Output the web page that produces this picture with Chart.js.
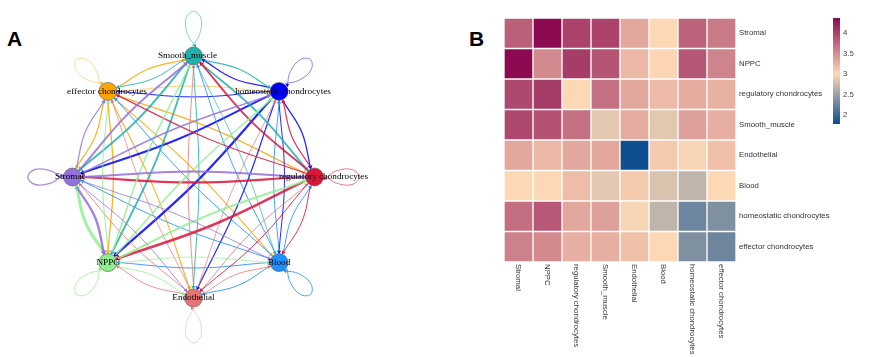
<!DOCTYPE html>
<html>
<head>
<meta charset="utf-8">
<script src="https://cdn.jsdelivr.net/npm/chart.js@4"></script>
<style>
  html, body { margin: 0; padding: 0; background: #fff; width: 870px; height: 357px; overflow: hidden; }
  canvas { position: absolute; }
  .panel { position: absolute; font: bold 21px "Liberation Sans", Arial, sans-serif; color: #000; }
</style>
</head>
<body>
<div class="panel" style="left:7px;top:27px">A</div>
<div class="panel" style="left:469px;top:27px">B</div>
<canvas id="network" style="left:0;top:0" width="430" height="357"></canvas>
<canvas id="heatmap" style="left:470px;top:0" width="400" height="357"></canvas>
<canvas id="colorbar" style="left:820px;top:0" width="50" height="140"></canvas>
<script>
const cellTypes = ['Stromal', 'NPPC', 'regulatory chondrocytes', 'Smooth_muscle', 'Endothelial', 'Blood', 'homeostatic chondrocytes', 'effector chondrocytes'];

// network layout, unit circle
const nodeX = [-1, -0.707, 1, 0, 0, 0.707, 0.707, -0.707];
const nodeY = [0, -0.707, 0, 1, -1, -0.707, 0.707, 0.707];
const nodeColors = ['#9370DB', '#90EE90', '#DC143C', '#20B2AA', '#E57373', '#1E90FF', '#0000FF', '#FFA500'];

// line width of each edge, row = source, column = target
const edgeWidths = [
  [1.3, 2.4, 2.0, 2.0, 0.9, 0.9, 1.5, 1.2],
  [3.0, 0.9, 1.9, 1.5, 0.9, 0.8, 1.5, 1.0],
  [2.2, 2.6, 0.7, 1.8, 1.0, 1.0, 1.2, 1.2],
  [2.0, 1.8, 1.8, 0.7, 1.0, 0.8, 1.2, 1.0],
  [0.9, 0.9, 0.9, 0.9, 0.4, 0.9, 0.8, 0.8],
  [1.0, 1.0, 1.0, 1.0, 1.0, 1.0, 1.0, 1.0],
  [2.0, 2.2, 1.3, 1.3, 1.2, 1.0, 0.6, 1.0],
  [1.2, 1.3, 1.3, 1.2, 1.1, 1.1, 0.6, 0.5]
];

// heatmap values, rows and columns in cellTypes order
const heatValues = [
  [3.80, 4.37, 3.99, 3.99, 3.32, 3.00, 3.78, 3.62],
  [4.37, 3.52, 4.04, 3.87, 3.21, 3.01, 3.86, 3.56],
  [3.96, 4.04, 3.00, 3.68, 3.32, 3.20, 3.29, 3.25],
  [3.96, 3.89, 3.68, 2.87, 3.30, 2.86, 3.37, 3.27],
  [3.32, 3.21, 3.32, 3.32, 1.78, 3.10, 2.97, 3.16],
  [3.00, 3.00, 3.18, 2.87, 3.10, 2.81, 2.69, 3.00],
  [3.70, 3.85, 3.32, 3.37, 2.97, 2.69, 2.27, 2.36],
  [3.58, 3.52, 3.27, 3.27, 3.16, 3.00, 2.36, 2.27]
];
const colorbarTicks = [2, 2.5, 3, 3.5, 4];
const heatMin = 1.78;
const heatMid = 3;
const heatMax = 4.37;

const lowColor = [13, 79, 143];
const midColor = [253, 216, 181];
const highColor = [139, 10, 80];

const toCss = c => `rgb(${c.map(Math.round).join(',')})`;
const mix = (a, b, t) => a.map((v, i) => v + (b[i] - v) * t);

function heatColor(v) {
  if (v <= heatMid) return toCss(mix(lowColor, midColor, (v - heatMin) / (heatMid - heatMin)));
  return toCss(mix(midColor, highColor, (v - heatMid) / (heatMax - heatMid)));
}

const withAlpha = (hex, a) => hex + Math.round(a * 255).toString(16).padStart(2, '0');

// ---- panel A ----
const unit = 121; // pixels per layout unit
const nodeRadius = 9 / unit;
const bend = 0.045;

function edgeDataset(path, color, width, alpha) {
  const last = path[path.length - 1];
  const prev = path[path.length - 2];
  const rot = Math.atan2(last.x - prev.x, last.y - prev.y) * 180 / Math.PI;
  const arrowSize = 1.8 + width * 0.6;
  return {
    data: path,
    showLine: true,
    tension: 0.4,
    order: 1,
    borderColor: withAlpha(color, alpha),
    borderWidth: width,
    pointRadius: path.map((_, i) => i === path.length - 1 ? arrowSize : 0),
    pointRotation: path.map((_, i) => i === path.length - 1 ? rot : 0),
    pointStyle: 'triangle',
    pointBackgroundColor: color,
    pointBorderWidth: 0
  };
}

function straightEdge(from, to) {
  const dx = nodeX[to] - nodeX[from];
  const dy = nodeY[to] - nodeY[from];
  const len = Math.hypot(dx, dy);
  const ux = dx / len;
  const uy = dy / len;
  const gap = nodeRadius + 0.015;
  // bulge to the left of the travel direction
  return [
    { x: nodeX[from] + ux * gap, y: nodeY[from] + uy * gap },
    { x: (nodeX[from] + nodeX[to]) / 2 - uy * bend, y: (nodeY[from] + nodeY[to]) / 2 + ux * bend },
    { x: nodeX[to] - ux * gap, y: nodeY[to] - uy * gap }
  ];
}

const loopAlong = [0.08, 0.18, 0.31, 0.37, 0.31, 0.18, 0.085];
const loopAcross = [0.012, -0.05, -0.062, 0, 0.062, 0.05, -0.012];

function selfLoop(n) {
  const len = Math.hypot(nodeX[n], nodeY[n]);
  const ux = nodeX[n] / len;
  const uy = nodeY[n] / len;
  return loopAlong.map((a, i) => ({
    x: nodeX[n] + ux * a - uy * loopAcross[i],
    y: nodeY[n] + uy * a + ux * loopAcross[i]
  }));
}

const networkSets = [{
  data: cellTypes.map((_, i) => ({ x: nodeX[i], y: nodeY[i] })),
  order: 0,
  pointRadius: 9,
  pointBackgroundColor: nodeColors,
  pointBorderColor: '#666',
  pointBorderWidth: 0.7
}];

cellTypes.forEach((_, from) => {
  cellTypes.forEach((_, to) => {
    const w = edgeWidths[from][to];
    if (from === to) networkSets.push(edgeDataset(selfLoop(from), nodeColors[from], w, 0.8));
    else networkSets.push(edgeDataset(straightEdge(from, to), nodeColors[from], w, 0.85));
  });
});

const labelShift = [-3, 0, 9, -6, 0, 0, 4, -1];

const nodeLabels = {
  id: 'nodeLabels',
  afterDatasetsDraw(chart) {
    const { ctx, scales } = chart;
    ctx.save();
    ctx.font = '9.2px "Liberation Serif", serif';
    ctx.fillStyle = '#000';
    ctx.textAlign = 'center';
    ctx.textBaseline = 'middle';
    cellTypes.forEach((name, i) => {
      ctx.fillText(name, scales.x.getPixelForValue(nodeX[i]) + labelShift[i], scales.y.getPixelForValue(nodeY[i]));
    });
    ctx.restore();
  }
};

new Chart(document.getElementById('network'), {
  type: 'scatter',
  data: { datasets: networkSets },
  plugins: [nodeLabels],
  options: {
    responsive: false,
    animation: false,
    layout: { padding: 0, autoPadding: false },
    plugins: { legend: { display: false }, tooltip: { enabled: false } },
    scales: {
      x: { display: false, min: -193.5 / unit, max: (430 - 193.5) / unit },
      y: { display: false, min: -180 / unit, max: 177 / unit }
    }
  }
});

// ---- panel B ----
const tickFont = { family: '"Liberation Sans", Arial, sans-serif', size: 7.8 };

// bottom labels read downwards from the cell edge, the axis can't align them that way
const columnLabels = {
  id: 'columnLabels',
  afterDraw(chart) {
    const { ctx, scales, chartArea } = chart;
    ctx.save();
    ctx.font = '7.8px "Liberation Sans", Arial, sans-serif';
    ctx.fillStyle = '#333';
    ctx.textAlign = 'left';
    ctx.textBaseline = 'middle';
    cellTypes.forEach((name, i) => {
      ctx.save();
      ctx.translate(scales.x.getPixelForTick(i), chartArea.bottom + 2);
      ctx.rotate(Math.PI / 2);
      ctx.fillText(name, 0, 0);
      ctx.restore();
    });
    ctx.restore();
  }
};

new Chart(document.getElementById('heatmap'), {
  type: 'bar',
  data: {
    labels: cellTypes,
    datasets: heatValues.map((row, r) => ({
      data: row.map(() => [r, r + 1]),
      backgroundColor: row.map(heatColor),
      borderColor: 'rgba(255,255,255,0.55)',
      borderWidth: 1,
      borderSkipped: false,
      grouped: false,
      categoryPercentage: 1,
      barPercentage: 1
    }))
  },
  plugins: [columnLabels],
  options: {
    responsive: false,
    animation: false,
    layout: { padding: { left: 34, top: 18, right: 0, bottom: 0 } },
    plugins: { legend: { display: false }, tooltip: { enabled: false } },
    scales: {
      x: {
        grid: { display: false, drawTicks: false },
        border: { display: false },
        afterFit: s => { s.height = 95; },
        ticks: { display: false }
      },
      y: {
        position: 'right',
        reverse: true,
        min: 0,
        max: 8,
        grid: { display: false, drawTicks: false },
        border: { display: false },
        afterFit: s => { s.width = 134; },
        afterBuildTicks: s => { s.ticks = cellTypes.map((_, i) => ({ value: i + 0.5 })); },
        ticks: { autoSkip: false, padding: 3, color: '#333', font: tickFont, callback: v => cellTypes[v - 0.5] }
      }
    }
  }
});

new Chart(document.getElementById('colorbar'), {
  type: 'bar',
  data: {
    labels: [''],
    datasets: [{
      data: [[heatMin, heatMax]],
      categoryPercentage: 1,
      barPercentage: 1,
      backgroundColor: ctx => {
        const { chartArea, ctx: c } = ctx.chart;
        if (!chartArea) return '#ccc';
        const g = c.createLinearGradient(0, chartArea.bottom, 0, chartArea.top);
        g.addColorStop(0, toCss(lowColor));
        g.addColorStop((heatMid - heatMin) / (heatMax - heatMin), toCss(midColor));
        g.addColorStop(1, toCss(highColor));
        return g;
      }
    }]
  },
  options: {
    responsive: false,
    animation: false,
    layout: { padding: { left: 13, top: 18, right: 0, bottom: 16 } },
    plugins: { legend: { display: false }, tooltip: { enabled: false } },
    scales: {
      x: { display: false },
      y: {
        position: 'right',
        min: heatMin,
        max: heatMax,
        grid: { display: false, drawTicks: false },
        border: { display: false },
        afterFit: s => { s.width = 30; },
        afterBuildTicks: s => { s.ticks = colorbarTicks.map(v => ({ value: v })); },
        ticks: { padding: 3, color: '#444', font: tickFont, callback: v => String(v) }
      }
    }
  }
});
</script>
</body>
</html>
